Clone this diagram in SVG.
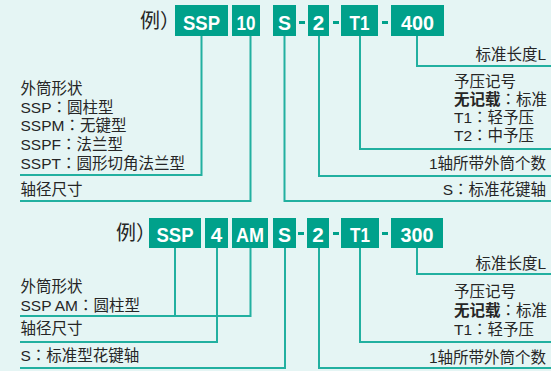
<svg xmlns="http://www.w3.org/2000/svg" width="551" height="371" viewBox="0 0 551 371">
<style>
.bg{fill:#e5f5f4}
.box{fill:#00a18b}
.dash{fill:#00a18b}
.bt{font-family:"Liberation Sans",Arial,sans-serif;font-weight:bold;font-size:21px;fill:#fff;text-anchor:middle}
.t{font-family:"Liberation Sans","Noto Sans CJK SC",sans-serif;font-size:15.5px;fill:#262626}
.c{font-family:"Noto Sans CJK JP",sans-serif}
.r{text-anchor:end}
.b{font-weight:bold}
.ex{font-family:"Noto Sans CJK SC",sans-serif;font-size:20px;fill:#262626}
.ln{fill:none;stroke:#22b0a0;stroke-width:2}
</style>
<rect class="bg" x="0" y="0" width="551" height="371"/>
<g id="connectors">
<path class="ln" d="M201.5,36V175H20"/>
<path class="ln" d="M250.5,36V201H20"/>
<path class="ln" d="M284.5,36V201H551"/>
<path class="ln" d="M319,36V176H551"/>
<path class="ln" d="M360,36V149H551"/>
<path class="ln" d="M417,36V66H551"/>
<path class="ln" d="M175,248V316H20"/>
<path class="ln" d="M250.5,248V316H175"/>
<path class="ln" d="M217,248V342H20"/>
<path class="ln" d="M285,248V368H20"/>
<path class="ln" d="M319,248V368H551"/>
<path class="ln" d="M360,248V342H551"/>
<path class="ln" d="M417,248V274H551"/>
</g>
<g id="example1">
<text class="ex" x="140" y="28">例）</text>
<g id="b1-ssp"><rect class="box" x="175" y="5" width="53" height="31"/><text class="bt" x="201.5" y="29.5" textLength="37" lengthAdjust="spacingAndGlyphs">SSP</text></g>
<g id="b1-10"><rect class="box" x="232" y="5" width="28" height="31"/><text class="bt" x="246" y="29.5" textLength="19" lengthAdjust="spacingAndGlyphs">10</text></g>
<g id="b1-s"><rect class="box" x="273" y="5" width="23" height="31"/><text class="bt" x="284.5" y="29.5" textLength="13" lengthAdjust="spacingAndGlyphs">S</text></g>
<rect class="dash" x="299" y="21" width="6" height="3"/>
<g id="b1-2"><rect class="box" x="308" y="5" width="21" height="31"/><text class="bt" x="318.5" y="29.5" textLength="11.5" lengthAdjust="spacingAndGlyphs">2</text></g>
<rect class="dash" x="333" y="21" width="6" height="3"/>
<g id="b1-t1"><rect class="box" x="341" y="5" width="37" height="31"/><text class="bt" x="359.5" y="29.5" textLength="20" lengthAdjust="spacingAndGlyphs">T1</text></g>
<rect class="dash" x="382" y="21" width="6" height="3"/>
<g id="b1-400"><rect class="box" x="391" y="5" width="53" height="31"/><text class="bt" x="417.5" y="29.5" textLength="33" lengthAdjust="spacingAndGlyphs">400</text></g>
</g>
<g id="labels1-left">
<text class="t" x="20.5" y="94">外筒形状</text>
<text class="t" x="20.5" y="112.5">SSP<tspan class="c">：</tspan>圆柱型</text>
<text class="t" x="20.5" y="131">SSPM<tspan class="c">：</tspan>无键型</text>
<text class="t" x="20.5" y="149.5">SSPF<tspan class="c">：</tspan>法兰型</text>
<text class="t" x="20.5" y="168.5">SSPT<tspan class="c">：</tspan>圆形切角法兰型</text>
<text class="t" x="20.5" y="195">轴径尺寸</text>
</g>
<g id="labels1-right">
<text class="t r" x="546" y="60">标准长度L</text>
<text class="t" x="454" y="87">予压记号</text>
<text class="t" x="454" y="104.5"><tspan class="b">无记载</tspan><tspan class="c">：</tspan>标准</text>
<text class="t" x="454" y="122.5">T1<tspan class="c">：</tspan>轻予压</text>
<text class="t" x="454" y="141">T2<tspan class="c">：</tspan>中予压</text>
<text class="t r" x="546" y="169">1轴所带外筒个数</text>
<text class="t r" x="546" y="194.5">S<tspan class="c">：</tspan>标准花键轴</text>
</g>
<g id="example2">
<text class="ex" x="116" y="240">例）</text>
<g id="b2-ssp"><rect class="box" x="149" y="218" width="52" height="30"/><text class="bt" x="175" y="241.5" textLength="37" lengthAdjust="spacingAndGlyphs">SSP</text></g>
<g id="b2-4"><rect class="box" x="205" y="218" width="23" height="30"/><text class="bt" x="216.5" y="241.5" textLength="11.5" lengthAdjust="spacingAndGlyphs">4</text></g>
<g id="b2-am"><rect class="box" x="232" y="218" width="36" height="30"/><text class="bt" x="250" y="241.5" textLength="28" lengthAdjust="spacingAndGlyphs">AM</text></g>
<g id="b2-s"><rect class="box" x="273" y="218" width="23" height="30"/><text class="bt" x="284.5" y="241.5" textLength="13" lengthAdjust="spacingAndGlyphs">S</text></g>
<rect class="dash" x="298" y="232" width="6" height="3"/>
<g id="b2-2"><rect class="box" x="307" y="218" width="22" height="30"/><text class="bt" x="318" y="241.5" textLength="11.5" lengthAdjust="spacingAndGlyphs">2</text></g>
<rect class="dash" x="333" y="232" width="6" height="3"/>
<g id="b2-t1"><rect class="box" x="341" y="218" width="38" height="30"/><text class="bt" x="360" y="241.5" textLength="20" lengthAdjust="spacingAndGlyphs">T1</text></g>
<rect class="dash" x="382" y="232" width="6" height="3"/>
<g id="b2-300"><rect class="box" x="391" y="218" width="52" height="30"/><text class="bt" x="417" y="241.5" textLength="33" lengthAdjust="spacingAndGlyphs">300</text></g>
</g>
<g id="labels2-left">
<text class="t" x="20.5" y="292">外筒形状</text>
<text class="t" x="20.5" y="310.5">SSP AM<tspan class="c">：</tspan>圆柱型</text>
<text class="t" x="20.5" y="334">轴径尺寸</text>
<text class="t" x="20.5" y="361">S<tspan class="c">：</tspan>标准型花键轴</text>
</g>
<g id="labels2-right">
<text class="t r" x="546" y="269">标准长度L</text>
<text class="t" x="454" y="297">予压记号</text>
<text class="t" x="454" y="316"><tspan class="b">无记载</tspan><tspan class="c">：</tspan>标准</text>
<text class="t" x="454" y="334.5">T1<tspan class="c">：</tspan>轻予压</text>
<text class="t r" x="546" y="362.5">1轴所带外筒个数</text>
</g>
</svg>
